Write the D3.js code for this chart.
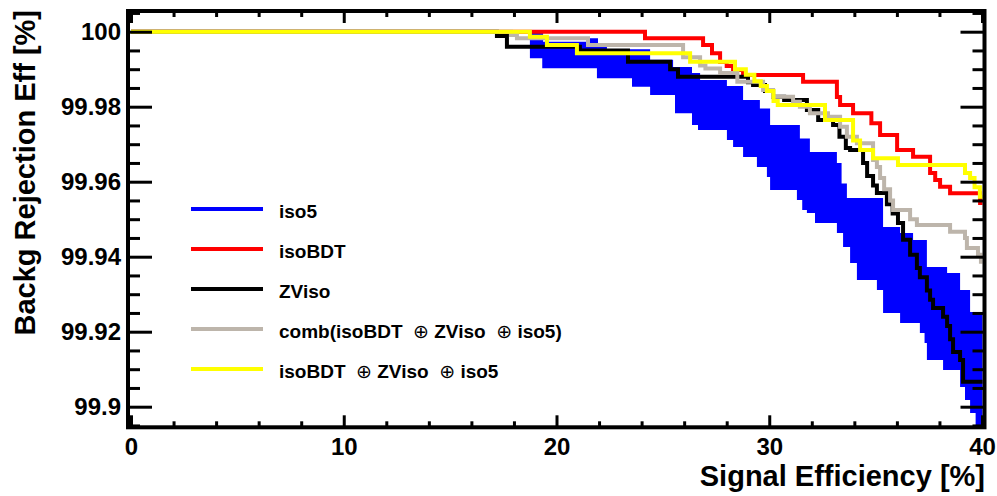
<!DOCTYPE html>
<html><head><meta charset="utf-8">
<script src="https://cdn.jsdelivr.net/npm/d3@7"></script>
<style>
body{margin:0;background:#fff}
svg{display:block}
text{font-family:"Liberation Sans",Arial,Helvetica,sans-serif;font-weight:bold;fill:#000}
</style>
</head><body>
<svg id="c" width="997" height="496"></svg>
<script>
// ---------- data ----------
const xMajorTicks = [0, 10, 20, 30, 40];
const yMajorTicks = [99.9, 99.92, 99.94, 99.96, 99.98, 100];
const yTickLabels = ["99.9", "99.92", "99.94", "99.96", "99.98", "100"];
const xTitle = "Signal Efficiency [%]";
const yTitle = "Backg Rejection Eff [%]";
const seriesNames = ["iso5", "isoBDT", "ZViso", "comb(isoBDT  \u2295 ZViso  \u2295 iso5)", "isoBDT  \u2295 ZViso  \u2295 iso5"];
const seriesColors = ["#0000ff", "#ff0000", "#000000", "#bdb5ab", "#ffff00"];

const iso5Upper = [[0,100],[19.37,99.99733],[21.57,99.99824],[21.95,99.99600],[22.37,99.99531],[24.40,99.99250],[25.48,99.99059],[26.37,99.98899],[26.75,99.98712],[28.01,99.98550],[28.77,99.98179],[29.56,99.97950],[30.04,99.97512],[31.44,99.97150],[31.91,99.96792],[33.18,99.96500],[33.40,99.95950],[33.65,99.95565],[35.35,99.94792],[36.15,99.94632],[36.76,99.94445],[37.41,99.93725],[38.36,99.93565],[38.97,99.93112],[39.44,99.92525],[40.15,99.92525]];
const iso5Lower = [[0,100],[18.75,99.99291],[19.33,99.99024],[21.90,99.98757],[23.55,99.98533],[24.40,99.98312],[25.57,99.97824],[26.37,99.97512],[26.65,99.97379],[28.01,99.97112],[28.30,99.96925],[28.77,99.96659],[29.42,99.96392],[29.89,99.96125],[30.04,99.95779],[31.30,99.95512],[31.55,99.95245],[31.77,99.95165],[32.15,99.94899],[33.18,99.94632],[33.47,99.94259],[33.80,99.93832],[34.12,99.93379],[35.06,99.93112],[35.35,99.92499],[36.15,99.92232],[37.08,99.91965],[37.30,99.91699],[37.41,99.91245],[38.17,99.90979],[38.97,99.90525],[39.20,99.90179],[39.44,99.89832],[39.70,99.89512],[39.90,99.8930],[40.15,99.8930]];
const isoBDT = [[0,100],[24.16,99.99824],[26.89,99.99645],[27.31,99.99424],[27.69,99.99190],[28.00,99.99085],[28.30,99.98979],[28.77,99.98845],[31.59,99.98667],[33.18,99.98260],[33.33,99.98045],[33.94,99.97824],[34.80,99.97557],[35.21,99.97245],[36.01,99.96845],[36.76,99.96667],[37.56,99.96232],[37.80,99.96045],[38.03,99.95867],[38.50,99.95691],[39.91,99.95432],[40.15,99.95432]];
const ZViso = [[0,100],[17.20,99.99885],[17.67,99.99600],[21.10,99.99500],[23.36,99.99200],[25.34,99.99000],[25.71,99.98800],[29.00,99.98650],[29.24,99.98579],[29.80,99.98420],[30.18,99.98267],[30.70,99.98179],[31.77,99.97912],[32.30,99.97645],[33.00,99.97512],[33.30,99.97200],[33.60,99.96900],[33.80,99.96845],[34.41,99.96500],[34.60,99.96150],[34.88,99.95900],[35.06,99.95700],[35.53,99.95400],[35.80,99.95150],[36.05,99.94900],[36.29,99.94450],[36.62,99.94050],[36.94,99.93700],[37.08,99.93450],[37.41,99.93100],[37.56,99.92850],[37.70,99.92632],[38.17,99.92400],[38.36,99.92150],[38.50,99.91800],[38.64,99.91459],[38.97,99.91245],[39.11,99.90667],[40.15,99.90667]];
const combBDTZVIso5 = [[0,100],[17.86,99.99912],[18.14,99.99824],[21.48,99.99645],[25.95,99.99320],[26.75,99.99100],[27.00,99.99020],[27.69,99.98900],[28.50,99.98667],[29.71,99.98445],[30.18,99.98267],[31.12,99.98133],[31.44,99.98000],[31.91,99.97824],[32.76,99.97733],[33.33,99.97467],[33.65,99.97200],[34.12,99.97024],[34.88,99.96579],[35.06,99.96392],[35.21,99.96100],[35.40,99.95800],[35.68,99.95500],[35.82,99.95245],[36.62,99.95000],[36.94,99.94845],[38.50,99.94667],[39.20,99.94500],[39.29,99.94232],[39.81,99.94050],[39.95,99.93867],[40.15,99.93867]];
const orBDTZVIso5 = [[0,100],[18.75,99.99867],[19.55,99.99645],[20.96,99.99424],[26.28,99.99200],[28.39,99.99000],[28.90,99.98850],[29.30,99.98680],[29.60,99.98550],[29.89,99.98420],[30.20,99.98150],[30.40,99.98045],[32.62,99.97645],[33.94,99.97100],[34.27,99.96845],[34.88,99.96624],[36.05,99.96445],[39.20,99.96232],[39.44,99.96100],[39.65,99.95850],[39.90,99.95600],[40.15,99.95600]];

// ---------- layout ----------
const svg = d3.select("#c");
const frame = {x0: 128, x1: 984.5, y0: 11, y1: 427.3};
const x = d3.scaleLinear().domain([0, 40]).range([131, 982]);
const y = d3.scaleLinear().domain([99.9, 100]).range([406.7, 31.7]);

const xMinor = d3.range(0, 41, 2).filter(v => v % 10 !== 0);
const yMinor = d3.range(0, 23).map(i => +(99.895 + i * 0.005).toFixed(3)).filter(v => !yMajorTicks.some(t => Math.abs(t - v) < 1e-6));

svg.append("defs").append("clipPath").attr("id", "clip")
  .append("rect").attr("x", frame.x0 + 2).attr("y", frame.y0 + 2)
  .attr("width", frame.x1 - frame.x0 - 4).attr("height", frame.y1 - frame.y0 - 4);

const plot = svg.append("g").attr("clip-path", "url(#clip)");

function stepCorners(arr) {
  const out = [];
  arr.forEach((p, i) => { out.push(p); if (i < arr.length - 1) out.push([arr[i + 1][0], p[1]]); });
  return out;
}
const band = stepCorners(iso5Upper).concat(stepCorners(iso5Lower).reverse());
plot.append("path")
  .attr("d", d3.line().x(d => x(d[0])).y(d => y(d[1]))(band) + "Z")
  .attr("fill", seriesColors[0]).attr("stroke", "none");

const stepLine = d3.line().x(d => x(d[0])).y(d => y(d[1])).curve(d3.curveStepAfter);
const lineSeries = [[isoBDT, 1], [ZViso, 2], [combBDTZVIso5, 3], [orBDTZVIso5, 4]];
lineSeries.forEach(([data, ci]) => {
  plot.append("path").attr("d", stepLine(data))
    .attr("fill", "none").attr("stroke", seriesColors[ci])
    .attr("stroke-width", 4).attr("stroke-linejoin", "miter");
});

// ---------- axes ----------
function styleAxis(g) {
  g.select(".domain").remove();
  g.selectAll(".tick line").attr("stroke", "#000").attr("stroke-width", 3);
  g.selectAll(".tick text").attr("font-size", 24).attr("font-family", "Liberation Sans, Arial, sans-serif").attr("font-weight", "bold");
}
// bottom
svg.append("g").attr("transform", `translate(0,${frame.y1})`)
  .call(d3.axisBottom(x).tickValues(xMajorTicks).tickSize(-12).tickPadding(11).tickFormat(d3.format("d")))
  .call(styleAxis);
svg.append("g").attr("transform", `translate(0,${frame.y1})`)
  .call(d3.axisBottom(x).tickValues(xMinor).tickSize(-6).tickFormat(""))
  .call(styleAxis);
// top
svg.append("g").attr("transform", `translate(0,${frame.y0})`)
  .call(d3.axisTop(x).tickValues(xMajorTicks).tickSize(-12).tickFormat(""))
  .call(styleAxis);
svg.append("g").attr("transform", `translate(0,${frame.y0})`)
  .call(d3.axisTop(x).tickValues(xMinor).tickSize(-6).tickFormat(""))
  .call(styleAxis);
// left
svg.append("g").attr("transform", `translate(${frame.x0},0)`)
  .call(d3.axisLeft(y).tickValues(yMajorTicks).tickSize(-24).tickPadding(7)
    .tickFormat((d, i) => yTickLabels[i]))
  .call(styleAxis);
svg.append("g").attr("transform", `translate(${frame.x0},0)`)
  .call(d3.axisLeft(y).tickValues(yMinor).tickSize(-12).tickFormat(""))
  .call(styleAxis);
// right
svg.append("g").attr("transform", `translate(${frame.x1},0)`)
  .call(d3.axisRight(y).tickValues(yMajorTicks).tickSize(-24).tickFormat(""))
  .call(styleAxis);
svg.append("g").attr("transform", `translate(${frame.x1},0)`)
  .call(d3.axisRight(y).tickValues(yMinor).tickSize(-12).tickFormat(""))
  .call(styleAxis);

// frame
svg.append("rect").attr("x", frame.x0).attr("y", frame.y0)
  .attr("width", frame.x1 - frame.x0).attr("height", frame.y1 - frame.y0)
  .attr("fill", "none").attr("stroke", "#000").attr("stroke-width", 4);

// titles
svg.append("text").attr("x", 985).attr("y", 486).attr("text-anchor", "end")
  .attr("font-size", 29).text(xTitle);
svg.append("text").attr("transform", "translate(34.5,10) rotate(-90)")
  .attr("text-anchor", "end").attr("font-size", 29).text(yTitle);

// legend
const legRowY = [209, 249, 289, 329, 369];
const leg = svg.append("g");
seriesNames.forEach((name, i) => {
  leg.append("line").attr("x1", 191).attr("x2", 263).attr("y1", legRowY[i]).attr("y2", legRowY[i])
    .attr("stroke", seriesColors[i]).attr("stroke-width", 4);
  const t = leg.append("text").attr("x", 279).attr("y", legRowY[i] + 9.3)
    .attr("font-size", 19).attr("xml:space", "preserve").style("white-space", "pre");
  name.split("\u2295").forEach((part, j) => {
    if (j > 0) t.append("tspan").attr("font-weight", "normal").attr("font-family", "DejaVu Sans").text("\u2295");
    t.append("tspan").text(part);
  });
});
</script>
</body></html>
